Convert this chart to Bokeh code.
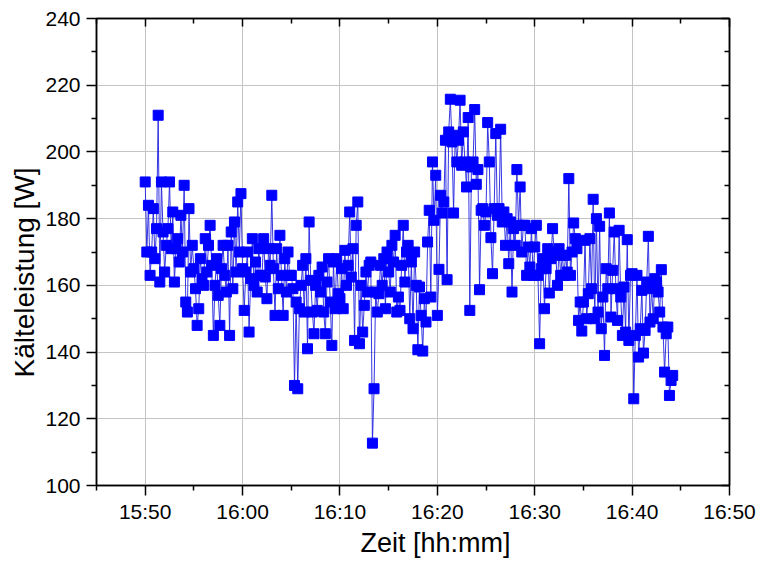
import pandas as pd
from bokeh.plotting import figure
from bokeh.models import (FixedTicker, DatetimeTickFormatter, DatetimeAxis, LinearAxis,
                          Range1d, ColumnDataSource, Grid, Title)
from bokeh.embed import file_html
from bokeh.resources import INLINE

# ---- data ----
day = "2000-01-01"
start_time = "15:50:00"
sample_step = "10s"
# Kälteleistung [W], one value every 10 s from 15:50:00, six values per minute
power_w = [
    191, 170, 184, 163, 170, 183,        # 15:50
    168, 177, 211, 161, 191, 176,        # 15:51
    164, 172, 177, 191, 171, 182,        # 15:52
    161, 171, 174, 167, 181, 170,        # 15:53
    190, 155, 152, 183, 164, 172,        # 15:54
    165, 159, 148, 153, 168, 162,        # 15:55
    160, 174, 164, 172, 178, 166,        # 15:56
    145, 160, 168, 157, 148, 165,        # 15:57
    172, 163, 158, 172, 145, 176,        # 15:58
    159, 179, 164, 185, 170, 187.5,      # 15:59
    165, 152.5, 164, 170, 146, 162,      # 16:00
    174, 160, 167, 158, 171, 163,        # 16:01
    163, 174, 162.5, 156, 171, 166,      # 16:02
    187, 165, 151, 171, 159, 175,        # 16:03
    163, 151, 168, 158, 170, 163,        # 16:04
    163, 159, 130, 155, 129, 153,        # 16:05
    160, 166, 152, 168, 141, 179,        # 16:06
    161.5, 152, 145.5, 160, 152.5, 163,  # 16:07
    158, 165.5, 152, 145.5, 161, 168,    # 16:08
    155, 142, 167, 153, 168, 157.5,      # 16:09
    156, 165, 153, 170.5, 160, 166,      # 16:10
    182, 162.5, 171, 143.5, 178, 185,    # 16:11
    142.5, 160, 146, 154, 164, 158,      # 16:12
    166, 167, 112.7, 129, 158, 152,      # 16:13
    157.5, 166, 160, 168, 153, 170,      # 16:14
    164, 158, 172, 167, 175, 152,        # 16:15
    156.5, 152.5, 166, 178, 161, 170,    # 16:16
    172, 150, 167, 147, 170, 160,        # 16:17
    140.7, 159.5, 151, 140.3, 156, 149,  # 16:18
    173, 182.5, 156.5, 197, 179.5, 193,  # 16:19
    151, 164.8, 187, 181.7, 185, 203.5,  # 16:20
    161.7, 206, 215.8, 203, 181.7, 205,  # 16:21
    197, 203.5, 215.5, 196, 206, 197,    # 16:22
    189.5, 210.3, 152.5, 195.5, 197, 212.7,  # 16:23
    190.3, 194.7, 158.7, 182.5, 183, 178,    # 16:24
    182, 208.8, 197, 174.3, 163.5, 183,  # 16:25
    205.5, 181, 183, 206.8, 179, 182,    # 16:26
    172, 180, 166.5, 179, 158, 177,      # 16:27
    172, 194.7, 178, 189.5, 170, 178,    # 16:28
    178, 163, 171.5, 165.5, 177, 163,    # 16:29
    171.5, 178, 163, 142.5, 165, 168,    # 16:30
    153, 165, 171, 157.7, 168, 177,      # 16:31
    170, 169, 160, 171, 163, 169,        # 16:32
    163, 169, 164, 192, 163, 170,        # 16:33
    178.7, 174, 171, 149.5, 155, 146.3,  # 16:34
    155, 173.5, 150, 157.5, 174, 159,    # 16:35
    185.8, 150, 180, 152, 177.7, 147,    # 16:36
    156.5, 139, 165, 159, 181.7, 150.5,  # 16:37
    164.5, 176, 159, 149.5, 176.5, 156.5,  # 16:38
    145, 159.5, 146, 173.7, 143.5, 163,  # 16:39
    163.5, 126, 145, 163, 138.5, 147,    # 16:40
    158.5, 139.7, 146.5, 161, 174.7, 149,  # 16:41
    159, 150, 162, 161, 158, 152,        # 16:42
    164.7, 147.5, 134, 145.5, 147.5, 127,  # 16:43
    131.5, 133,                          # 16:44
]

x_axis_start = "15:45"
x_axis_end = "16:50"
x_major_ticks = ["15:50", "16:00", "16:10", "16:20", "16:30", "16:40", "16:50"]
x_minor_ticks = ["15:45", "15:55", "16:05", "16:15", "16:25", "16:35", "16:45"]
y_axis_start, y_axis_end = 100, 240
y_major_ticks = [100, 120, 140, 160, 180, 200, 220, 240]
y_minor_ticks = [110, 130, 150, 170, 190, 210, 230]

x_title = "Zeit [hh:mm]"
y_title = "Kälteleistung [W]"


def ms(hhmm):
    return pd.Timestamp(f"{day} {hhmm}").value // 10**6


times = pd.date_range(f"{day} {start_time}", periods=len(power_w), freq=sample_step)
source = ColumnDataSource(data=dict(t=times, p=power_w))

FONT = "Liberation Sans"

p = figure(
    width=762, height=563,
    x_axis_type=None, y_axis_type=None,
    x_range=Range1d(ms(x_axis_start), ms(x_axis_end)),
    y_range=Range1d(y_axis_start, y_axis_end),
    output_backend="svg", toolbar_location=None,
    min_border_left=96, min_border_right=33, min_border_top=18, min_border_bottom=78,
)
p.background_fill_color = "white"
p.border_fill_color = "white"
p.outline_line_color = "black"
p.outline_line_width = 1.5

xticker = FixedTicker(ticks=[ms(t) for t in x_major_ticks], minor_ticks=[ms(t) for t in x_minor_ticks])
yticker = FixedTicker(ticks=y_major_ticks, minor_ticks=y_minor_ticks)
fmt = DatetimeTickFormatter(seconds="%H:%M", minsec="%H:%M", minutes="%H:%M",
                            hourmin="%H:%M", hours="%H:%M")


def style(ax, outward, show_labels):
    ax.axis_line_color = "black"
    ax.axis_line_width = 1.5
    ax.major_tick_line_color = "black"
    ax.minor_tick_line_color = "black"
    ax.major_tick_line_width = 1.5
    ax.minor_tick_line_width = 1.5
    if outward:
        ax.major_tick_out, ax.major_tick_in = 10, 0
        ax.minor_tick_out, ax.minor_tick_in = 5, 0
    else:
        ax.major_tick_out, ax.major_tick_in = 0, 8
        ax.minor_tick_out, ax.minor_tick_in = 0, 5
    ax.major_label_text_font = FONT
    if show_labels:
        ax.major_label_text_color = "black"
        ax.major_label_text_font_size = "21px"
    else:
        ax.major_label_text_color = None
        ax.major_label_text_font_size = "1px"
        ax.major_label_standoff = 0


xb = DatetimeAxis(ticker=xticker, formatter=fmt)
style(xb, True, True)
xb.major_label_standoff = 4
p.add_layout(xb, "below")

yl = LinearAxis(ticker=yticker)
style(yl, True, True)
yl.major_label_standoff = 6
p.add_layout(yl, "left")

xt = DatetimeAxis(ticker=xticker, formatter=fmt)
style(xt, False, False)
p.add_layout(xt, "above")

yr = LinearAxis(ticker=yticker)
style(yr, False, False)
p.add_layout(yr, "right")

p.add_layout(Grid(dimension=0, ticker=xticker, grid_line_color="#c4c4c4", grid_line_width=1))
p.add_layout(Grid(dimension=1, ticker=yticker, grid_line_color="#c4c4c4", grid_line_width=1))

p.line("t", "p", source=source, line_color="#2020e0", line_width=0.9)
p.scatter("t", "p", source=source, marker="square", size=10,
          fill_color="#0000ff", line_color="#0000ff")

# axis titles as side-panel titles (shifted like in the reference)
p.add_layout(Title(text=x_title, align="left", offset=264, vertical_align="bottom",
                   standoff=0, text_font=FONT, text_font_size="27px",
                   text_font_style="normal", text_color="black"), "below")
p.add_layout(Title(text=y_title, align="left", offset=108, vertical_align="bottom",
                   standoff=6, text_font=FONT, text_font_size="28px",
                   text_font_style="normal", text_color="black"), "left")

open("out.html", "w").write(file_html(p, INLINE))
